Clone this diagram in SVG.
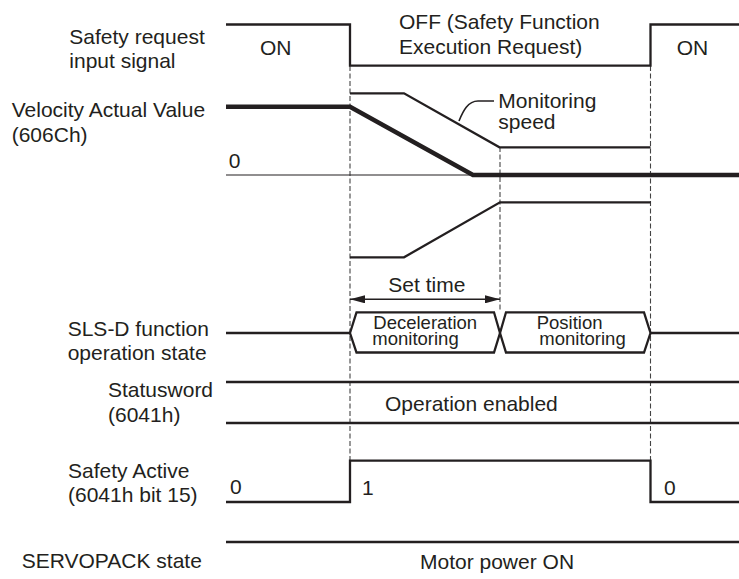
<svg xmlns="http://www.w3.org/2000/svg" width="739" height="579" viewBox="0 0 739 579">
<style>
text{font-family:"Liberation Sans",Arial,sans-serif;font-size:21px;fill:#231f20}
.sm{font-size:18.5px}
.sig{fill:none;stroke:#231f20;stroke-width:2.3;stroke-linejoin:miter}
.thin{fill:none;stroke:#231f20;stroke-width:1.2}
.thick{fill:none;stroke:#231f20;stroke-width:4.5}
.dash{fill:none;stroke:#444;stroke-width:1.1;stroke-dasharray:5 2.5}
.conn{fill:none;stroke:#231f20;stroke-width:1.6}
</style>
<defs>
<marker id="ah" viewBox="0 0 15 8" refX="15" refY="4" markerWidth="15" markerHeight="8" markerUnits="userSpaceOnUse" orient="auto-start-reverse">
<path d="M0,0 L15,4 L0,8 Z" fill="#231f20"/>
</marker>
</defs>
<rect width="739" height="579" fill="#fff"/>

<g id="connectors">
<line class="dash" x1="350" y1="66" x2="350" y2="460"/>
<line class="dash" x1="500" y1="147" x2="500" y2="312"/>
<line class="dash" x1="650.5" y1="66" x2="650.5" y2="460"/>
<line class="conn" x1="350" y1="299.3" x2="500" y2="299.3" marker-start="url(#ah)" marker-end="url(#ah)"/>
<path class="conn" d="M459,121 C463,111 468,101 478,101 L494,101"/>
</g>

<g id="safety-request">
<text x="69.3" y="44.3">Safety request</text>
<text x="69.3" y="68.3">input signal</text>
<path class="sig" d="M226,24.5 H350 V65.7 H650.5 V24.5 H739"/>
<text x="260" y="55">ON</text>
<text x="399" y="29.3">OFF (Safety Function</text>
<text x="399" y="54.3">Execution Request)</text>
<text x="676.7" y="54.5">ON</text>
</g>

<g id="velocity">
<text x="11.7" y="117.3">Velocity Actual Value</text>
<text x="11.7" y="141.5">(606Ch)</text>
<text x="228.7" y="168.3">0</text>
<path class="thin" d="M226,175 H739"/>
<path class="thick" d="M226,106.7 H350 L473,175 H739"/>
</g>

<g id="monitoring-speed">
<path class="sig" d="M350,93.3 H404 L499.5,147.3 H650.5"/>
<path class="sig" d="M350,257.3 H404 L500,202.3 H650.5"/>
<text x="498.3" y="107.5">Monitoring</text>
<text x="498.3" y="128.5">speed</text>
</g>

<g id="set-time">
<text x="388.3" y="292.3">Set time</text>
</g>

<g id="sls-d">
<text x="67.7" y="336">SLS-D function</text>
<text x="67.7" y="360">operation state</text>
<path class="sig" d="M226,333 H350"/>
<path class="sig" d="M650.5,333 H739"/>
</g>

<g id="deceleration-monitoring">
<path class="sig" d="M350,333 L356.5,312.3 H494 L500,333 L494,352.5 H356.5 Z"/>
<text class="sm" x="373.3" y="329.3">Deceleration</text>
<text class="sm" x="372.3" y="345">monitoring</text>
</g>

<g id="position-monitoring">
<path class="sig" d="M500,333 L506,312.3 H644 L650.5,333 L644,352.5 H506 Z"/>
<text class="sm" x="536.7" y="329.3">Position</text>
<text class="sm" x="539.3" y="345">monitoring</text>
</g>

<g id="statusword">
<text x="108" y="397">Statusword</text>
<text x="108" y="421.5">(6041h)</text>
<path class="sig" d="M226,382 H739"/>
<path class="sig" d="M226,423 H739"/>
<text x="385" y="410.7">Operation enabled</text>
</g>

<g id="safety-active">
<text x="68" y="477.5">Safety Active</text>
<text x="68" y="502">(6041h bit 15)</text>
<path class="sig" d="M226,502 H350 V460.7 H650.5 V502 H739"/>
<text x="230" y="494">0</text>
<text x="362" y="495">1</text>
<text x="664" y="495">0</text>
</g>

<g id="servopack">
<text x="21.7" y="568">SERVOPACK state</text>
<path class="sig" d="M226,542 H739"/>
<text x="420" y="569">Motor power ON</text>
</g>
</svg>
